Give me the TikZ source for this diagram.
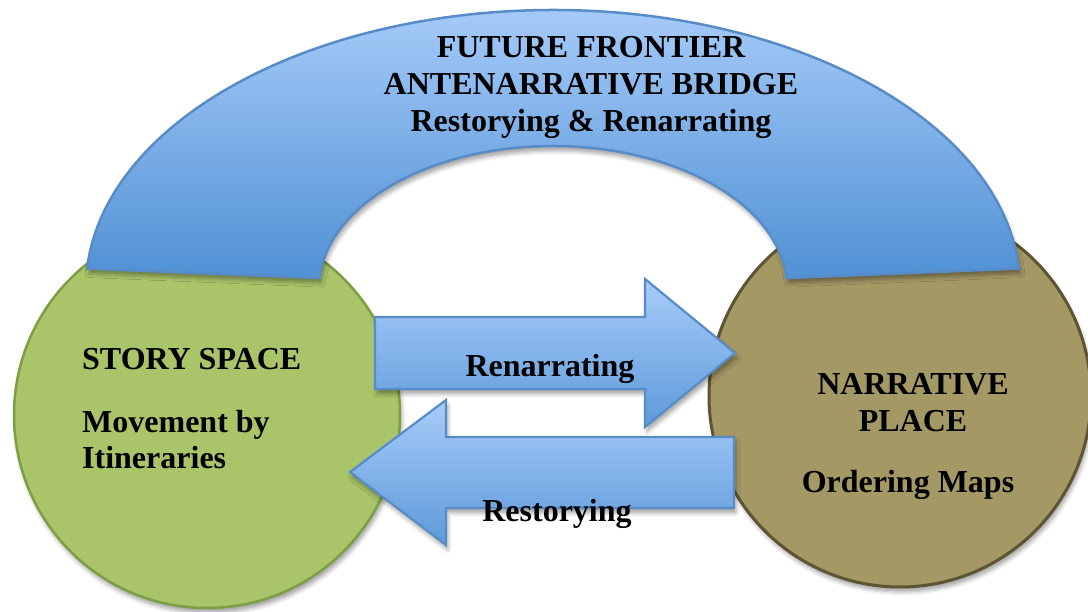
\documentclass[tikz,border=0pt]{standalone}
\usepackage{fontspec}
\setmainfont{Liberation Serif}
\usetikzlibrary{calc,shadows.blur}

\definecolor{spacegreen}{RGB}{170,196,106}
\definecolor{spaceline}{RGB}{124,158,68}
\definecolor{placeolive}{RGB}{164,152,101}
\definecolor{placeline}{RGB}{92,84,50}
\definecolor{skytop}{RGB}{168,204,250}
\definecolor{skybottom}{RGB}{80,145,212}
\definecolor{skyline}{RGB}{88,140,200}

\tikzset{
  bigtext/.style={font=\fontsize{32}{36}\selectfont\bfseries, inner sep=0pt},
  softshadow/.style={blur shadow={shadow xshift=2pt, shadow yshift=-5pt, shadow blur radius=4pt, shadow opacity=35}},
  blockarrow/.style={draw=skyline, line width=2.2pt, top color=skytop, bottom color=skybottom!85!skytop, softshadow},
}

\begin{document}
\begin{tikzpicture}[x=1pt, y=1pt]
    \useasboundingbox (0,0) rectangle (1088,611);

    % the two places
    \node[circle, minimum size=386pt, fill=spacegreen, draw=spaceline, line width=2.5pt, softshadow] (space) at (207,196) {};
    \node[circle, minimum size=382pt, fill=placeolive, draw=placeline, line width=3pt, softshadow] (place) at (900,215) {};

    % bridge over the top (block arc)
    \coordinate (bridge) at (553,323);
    \draw[draw=skyline, line width=2.5pt, top color=skytop, bottom color=skybottom, softshadow]
        ($(bridge)+({467*cos(4)},{278*sin(4)})$)
        arc[start angle=4, end angle=176, x radius=467pt, y radius=278pt]
        -- ($(bridge)+({234*cos(176)},{142*sin(176)})$)
        arc[start angle=176, end angle=4, x radius=234pt, y radius=142pt]
        -- cycle;
    \node[bigtext, anchor=base] (bridgeA) at (591,553) {FUTURE FRONTIER};
    \node[bigtext, anchor=base] (bridgeB) at (591,516) {ANTENARRATIVE BRIDGE};
    \node[bigtext, anchor=base] (bridgeC) at (591,479) {Restorying \& Renarrating};

    % arrow to the right
    \draw[blockarrow] (375,294) -- (645,294) -- (645,332) -- (735,258)
        -- (645,184) -- (645,222) -- (375,222) -- cycle;
    % arrow to the left
    \draw[blockarrow] (734,174) -- (446,174) -- (446,211) -- (350,139)
        -- (446,66) -- (446,103) -- (734,103) -- cycle;

    \node[bigtext, anchor=base] (renarr) at (550,234) {Renarrating};
    \node[bigtext, anchor=base] (restor) at (557,89) {Restorying};

    % labels in the circles
    \node[bigtext, anchor=base west] (spaceA) at (82,241) {STORY SPACE};
    \node[bigtext, anchor=base west] (spaceB) at (82,178) {Movement by};
    \node[bigtext, anchor=base west] (spaceC) at (82,142) {Itineraries};

    \node[bigtext, anchor=base] (placeA) at (913,216) {NARRATIVE};
    \node[bigtext, anchor=base] (placeB) at (913,179) {PLACE};
    \node[bigtext, anchor=base] (placeC) at (908,118) {Ordering Maps};

\end{tikzpicture}
\end{document}
